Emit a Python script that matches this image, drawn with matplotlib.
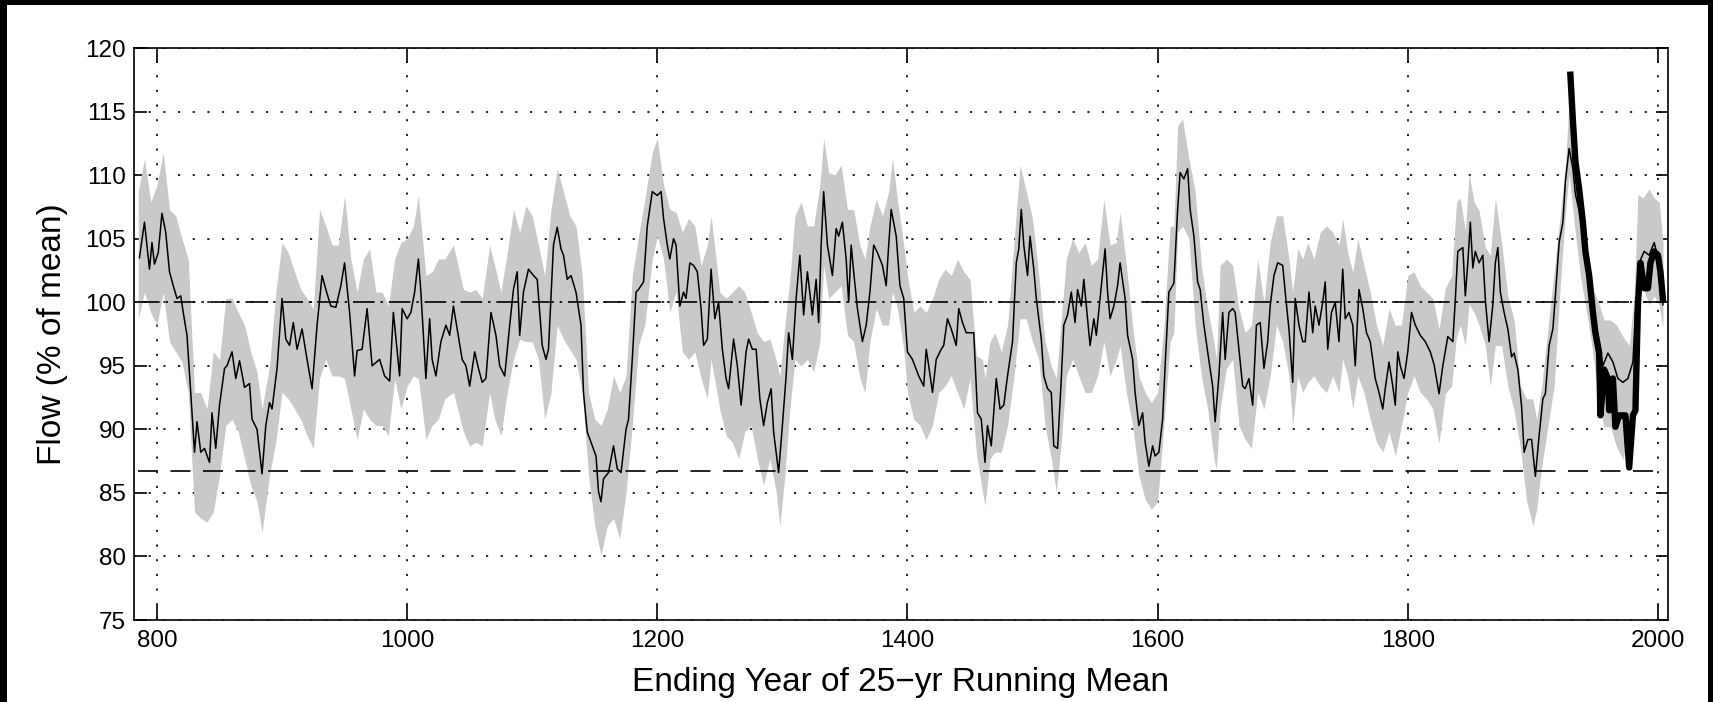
import matplotlib
matplotlib.use("Agg")
import matplotlib.pyplot as plt
from matplotlib.patches import Rectangle

plt.rcParams['font.family'] = ['Liberation Sans', 'DejaVu Sans']

# reconstructed flow, 25-yr running mean (thin line)
line_years = [786, 790, 794, 796, 798, 801, 804, 807, 810, 813, 816, 819, 821, 824, 827, 830,
              832, 835, 838, 842, 844, 847, 850, 854, 856, 860, 863, 866, 870, 874, 876, 880,
              884, 887, 890, 892, 896, 900, 903, 906, 909, 912, 916, 920, 924, 928, 932, 935,
              939, 943, 947, 950, 954, 958, 960, 964, 968, 972, 978, 982, 986, 989,
              994, 996, 1000, 1003, 1006, 1009, 1011, 1015, 1018, 1020, 1023, 1027, 1031, 1034,
              1037, 1040, 1044, 1047, 1050, 1054, 1057, 1060, 1063, 1067, 1071, 1074, 1078, 1082,
              1085, 1088, 1090, 1093, 1097, 1101, 1104, 1108, 1111, 1113, 1117, 1120, 1123, 1125,
              1128, 1131, 1135, 1139, 1141, 1144, 1148, 1151, 1153, 1155, 1157, 1161, 1165, 1168,
              1171, 1175, 1177, 1180, 1183, 1185, 1189, 1192, 1196,
              1200, 1203, 1205, 1208, 1210, 1213, 1215, 1218, 1221, 1223, 1226, 1229, 1232, 1235,
              1237, 1240, 1243, 1246, 1249, 1252, 1255, 1257, 1261, 1264, 1267, 1271, 1273, 1276,
              1279, 1282, 1285, 1288, 1291, 1293, 1297, 1300, 1303, 1305, 1308, 1311, 1314, 1317,
              1320, 1324, 1327, 1329, 1331, 1333, 1336, 1340, 1343, 1345, 1348, 1351, 1353, 1355,
              1357, 1360, 1364, 1367, 1370, 1373, 1376, 1380, 1383, 1385, 1387, 1391, 1394, 1397,
              1400, 1404,
              1409, 1413, 1415, 1417, 1420, 1423, 1427, 1429, 1432, 1435, 1439, 1441, 1444, 1447,
              1451, 1453, 1456, 1459, 1462, 1464, 1467, 1471, 1474, 1477, 1480, 1484, 1487, 1489,
              1491, 1493, 1496, 1498, 1501, 1503, 1507, 1509, 1512, 1515, 1517, 1520, 1523, 1525,
              1528, 1531, 1534, 1536, 1539, 1541, 1544, 1546, 1549, 1551, 1554, 1558, 1560, 1562,
              1565, 1568, 1570, 1574, 1576, 1580, 1582, 1585, 1588, 1590, 1593, 1596, 1598, 1601,
              1604, 1606, 1609, 1613,
              1616, 1618, 1621, 1624, 1626, 1629, 1632, 1634, 1637, 1640, 1644, 1646, 1649, 1652,
              1654, 1657, 1660, 1662, 1665, 1668, 1670, 1673, 1676, 1679, 1682, 1685, 1688, 1690,
              1693, 1696, 1700, 1702, 1705, 1708, 1710, 1713, 1716, 1718, 1721, 1724, 1726, 1729,
              1732, 1734, 1736, 1739, 1742, 1745, 1748, 1750, 1753, 1756, 1758, 1761, 1764, 1767,
              1770, 1774, 1777, 1780, 1782, 1785, 1788, 1790, 1792, 1794, 1797, 1800, 1803, 1806,
              1810, 1814, 1818, 1821,
              1825, 1828, 1832, 1836, 1838, 1840, 1844, 1846, 1848, 1850, 1852, 1854, 1857, 1860,
              1862, 1865, 1868, 1870, 1872, 1874, 1877, 1880, 1883, 1885, 1888, 1891, 1893, 1896,
              1899, 1902, 1905, 1908, 1910, 1913, 1916, 1918, 1921, 1924, 1926, 1929, 1932, 1934,
              1937, 1940, 1942, 1945, 1948, 1950, 1953, 1956, 1960, 1964, 1968, 1972, 1976, 1980,
              1982, 1985, 1989, 1993, 1997, 2001, 2004]
line_vals = [103.5, 106.3, 102.6, 104.7, 103.0, 103.9, 107.0, 105.5, 102.4, 101.3, 100.3, 100.5, 99.2, 97.4, 92.9, 88.2,
             90.6, 88.2, 88.5, 87.4, 91.3, 88.5, 91.9, 94.8, 95.0, 96.1, 94.0, 95.4, 93.3, 93.6, 90.8, 90.0,
             86.5, 90.3, 92.1, 91.6, 94.8, 100.3, 97.1, 96.6, 98.4, 96.3, 97.9, 95.5, 93.2, 98.2, 102.1, 101.0,
             99.7, 99.6, 101.3, 103.1, 99.2, 94.2, 96.2, 96.3, 99.5, 95.0, 95.5, 94.2, 93.8, 99.2,
             94.2, 99.5, 98.7, 99.2, 100.8, 103.4, 100.8, 94.0, 98.7, 95.5, 94.2, 96.9, 98.2, 97.4,
             99.7, 97.9, 95.5, 95.0, 93.4, 96.1, 94.8, 93.7, 94.0, 99.2, 97.4, 95.0, 94.2, 98.2,
             101.0, 102.4, 97.4, 100.8, 102.6, 102.1, 101.8, 96.6, 95.5, 96.3, 104.5, 105.9, 104.2, 103.7,
             101.8, 102.1, 100.8, 98.2, 92.9, 89.8, 88.7, 87.9, 85.1, 84.3, 86.1, 86.6, 88.7, 86.9,
             86.6, 90.0, 90.8, 95.5, 100.8, 101.0, 101.6, 106.0, 108.7,
             108.4, 108.7, 106.6, 104.5, 103.4, 105.0, 104.5, 99.7, 100.8, 100.3, 103.1, 102.9, 102.4, 99.5,
             96.6, 97.1, 102.6, 98.7, 100.0, 96.3, 94.0, 93.2, 97.1, 95.0, 91.9, 96.1, 97.1, 96.3,
             96.3, 92.4, 90.3, 92.1, 93.2, 89.8, 86.6, 90.3, 94.2, 97.6, 95.5, 100.3, 103.7, 99.0,
             102.4, 99.0, 101.8, 98.4, 104.5, 108.7, 104.5, 102.1, 105.8, 105.2, 106.3, 103.4, 100.0, 104.5,
             102.4, 99.5, 96.9, 98.2, 100.8, 104.5, 103.9, 102.9, 101.3, 104.5, 107.3, 105.2, 101.3, 100.3,
             96.1, 95.5,
             94.2, 93.4, 96.3, 95.0, 92.9, 95.5, 96.3, 96.6, 98.7, 97.9, 96.6, 99.5, 98.4, 97.6,
             97.6, 97.6, 91.3, 90.8, 87.4, 90.3, 88.7, 94.0, 91.6, 91.9, 94.2, 96.9, 103.1, 104.2,
             107.3, 104.5, 102.1, 105.2, 102.6, 100.3, 97.1, 94.2, 93.2, 92.9, 88.7, 88.5, 94.0, 98.2,
             99.0, 100.8, 98.4, 101.0, 99.7, 101.8, 98.7, 96.6, 98.7, 97.4, 100.3, 104.2, 100.8, 98.7,
             99.7, 101.3, 103.1, 100.3, 97.4, 95.5, 92.9, 90.3, 91.3, 89.0, 87.1, 88.7, 87.9, 88.2,
             90.8, 95.0, 100.8, 101.5,
             107.3, 110.2, 109.7, 110.5, 107.3, 105.2, 101.6, 101.0, 98.2, 96.1, 93.4, 90.6, 94.2, 99.2,
             95.5, 99.2, 99.5, 99.2, 96.3, 93.4, 93.2, 94.0, 91.9, 98.2, 98.4, 94.8, 96.9, 99.7,
             102.1, 103.1, 102.9, 100.8, 97.9, 93.7, 100.3, 98.2, 96.9, 96.9, 100.8, 97.6, 99.7, 98.2,
             100.0, 101.6, 96.3, 99.2, 100.0, 96.9, 102.6, 98.7, 99.2, 98.2, 95.0, 101.0, 99.5, 97.6,
             96.9, 94.0, 92.9, 91.6, 93.2, 95.3, 93.4, 91.9, 96.1, 95.0, 94.0, 96.1, 99.2, 98.2,
             97.4, 96.9, 96.1, 95.1,
             92.8, 95.0, 97.3, 96.9, 100.2, 104.0, 104.3, 100.5, 103.1, 106.3, 102.7, 104.0, 103.1, 103.7,
             100.2, 96.9, 99.8, 103.1, 104.3, 100.8, 99.2, 97.9, 95.7, 96.0, 94.7, 91.8, 88.2, 89.2,
             89.2, 86.3, 89.5, 92.4, 92.8, 96.6, 97.9, 100.5, 104.7, 106.3, 109.5, 112.1, 110.5, 108.5,
             107.2, 105.3, 103.7, 102.1, 99.8, 98.2, 96.9, 95.0, 96.0, 95.3, 94.0, 93.7, 94.0, 95.3,
             99.2, 103.1, 104.0, 103.7, 104.7, 103.1, 99.8]

# observed flow, 25-yr running mean (thick line)
obs_years = [1930, 1932, 1934, 1937, 1940, 1942, 1945, 1948, 1950, 1953, 1954, 1957, 1960, 1961, 1964, 1966,
             1969, 1972, 1974, 1977, 1980, 1982, 1984, 1986, 1989, 1992, 1994, 1997, 2000, 2002, 2004]
obs_vals = [117.9, 114.3, 111.1, 108.9, 106.3, 104.0, 102.1, 99.2, 97.6, 96.0, 91.1, 94.7, 94.0, 91.5, 94.0, 90.2,
            91.1, 91.1, 91.1, 87.0, 91.1, 91.5, 99.8, 103.1, 101.1, 101.1, 103.1, 104.0, 103.7, 102.4, 100.2]

# grey confidence band
band_years = [785, 790, 795, 800, 805, 810, 815, 820, 825, 830, 835, 840, 845, 850, 855, 860, 865, 870, 875, 880,
              884, 890, 895, 900, 905, 910, 915, 920, 925, 930, 935, 940, 945, 950, 955, 960, 965, 970, 975, 980,
              985, 990, 995, 1000, 1005, 1009, 1015, 1020, 1025, 1030, 1037, 1045, 1050, 1055, 1060, 1066, 1070,
              1075, 1080, 1085, 1090, 1095, 1100, 1105, 1110, 1115, 1120, 1125, 1130, 1135, 1140, 1145, 1150,
              1155, 1160, 1165, 1170, 1175, 1180, 1185, 1190, 1196, 1200, 1205, 1210, 1215, 1220, 1225, 1230,
              1235, 1240, 1243, 1250, 1255, 1260, 1265, 1270, 1275, 1280, 1285, 1290, 1295, 1298, 1302, 1306,
              1310, 1315, 1320, 1325, 1330, 1333, 1337, 1342, 1347, 1352, 1357, 1362, 1366, 1370, 1375, 1380,
              1385, 1388, 1392, 1397, 1400, 1405, 1410, 1415, 1420, 1425, 1430, 1435, 1440, 1445, 1450, 1455,
              1460, 1462, 1466, 1470, 1475, 1480, 1485, 1490, 1495, 1500, 1505, 1510, 1515, 1519, 1523, 1527,
              1532, 1537, 1542, 1547, 1552, 1557, 1562, 1567, 1570, 1575, 1580, 1585, 1590, 1595, 1600, 1605,
              1610, 1613, 1616, 1620, 1625, 1630, 1635, 1640, 1645, 1647, 1650, 1655, 1660, 1665, 1670, 1675,
              1680, 1685, 1690, 1695, 1700, 1705, 1708, 1712, 1716, 1720, 1725, 1730, 1735, 1740, 1745, 1748,
              1752, 1756, 1760, 1765, 1770, 1775, 1780, 1785, 1790, 1795, 1800, 1805, 1810, 1815, 1820, 1825,
              1830, 1835, 1839, 1842, 1846, 1849, 1853, 1857, 1862, 1866, 1870, 1875, 1880, 1885, 1890, 1895,
              1900, 1903, 1907, 1912, 1917, 1922, 1926, 1929, 1933, 1938, 1943, 1948, 1953, 1957, 1962, 1967,
              1972, 1977, 1981, 1984, 1988, 1993, 1997, 2001, 2004]
band_upper = [108.7, 111.3, 107.9, 109.2, 111.8, 107.3, 106.8, 105.0, 103.4, 92.9, 92.9, 91.6, 96.1, 95.5, 100.3, 100.3, 99.2, 98.2, 96.1, 94.5,
              91.6, 95.0, 100.8, 104.7, 103.9, 102.4, 101.0, 100.3, 99.5, 107.3, 106.0, 104.5, 104.5, 108.4, 103.4, 100.8, 103.4, 104.2, 100.8, 100.8,
              99.7, 103.4, 104.7, 105.0, 106.0, 108.4, 102.1, 102.4, 103.4, 103.4, 104.5, 101.0, 100.8, 101.0, 100.3, 104.5, 102.9,
              100.8, 103.9, 107.3, 105.5, 107.6, 106.8, 104.5, 102.1, 107.3, 110.5, 108.7, 106.8, 106.0, 102.1, 92.9, 90.8,
              90.3, 91.6, 94.2, 92.9, 94.2, 102.1, 105.2, 108.1, 111.8, 112.9, 109.2, 107.3, 107.1, 105.5, 106.6, 106.0,
              102.9, 104.5, 106.8, 100.8, 100.3, 100.8, 101.3, 100.8, 99.2, 97.6, 96.9, 97.1, 95.5, 94.2, 98.2, 101.8,
              106.8, 107.9, 106.0, 106.0, 109.2, 112.9, 110.2, 110.0, 110.8, 107.3, 107.3, 104.5, 103.4, 106.0, 108.1, 106.8,
              108.7, 111.3, 108.1, 104.5, 102.1, 99.2, 99.7, 99.2, 100.3, 101.8, 102.6, 102.1, 103.4, 102.4, 101.8, 95.8,
              95.5, 94.0, 96.9, 97.6, 96.1, 98.2, 104.5, 110.8, 108.7, 106.6, 102.1, 96.9, 95.0, 94.0, 98.7, 103.4,
              105.0, 103.9, 104.7, 102.9, 103.4, 108.1, 104.5, 104.7, 107.1, 102.9, 98.2, 94.2, 92.9, 92.1, 92.9, 98.2,
              106.0, 106.0, 113.9, 114.4, 111.3, 108.7, 102.9, 99.5, 96.9, 95.5, 102.9, 103.4, 102.9, 99.5, 97.6, 98.2,
              103.4, 100.0, 104.7, 106.8, 106.8, 103.4, 100.8, 104.2, 103.4, 104.7, 103.4, 105.5, 106.0, 105.5, 104.5, 106.6,
              103.9, 102.4, 105.0, 102.9, 100.8, 98.2, 96.6, 99.5, 98.2, 98.2, 102.1, 102.4, 101.3, 100.8, 100.3, 97.9,
              101.1, 102.1, 107.9, 108.2, 105.6, 110.1, 107.9, 107.2, 104.3, 103.7, 108.2, 104.7, 100.5, 98.6, 93.4, 92.4,
              92.4, 90.8, 93.4, 97.9, 102.4, 106.9, 110.8, 115.9, 111.1, 106.9, 104.7, 101.1, 99.8, 98.6, 98.6, 98.2,
              97.3, 96.6, 100.5, 108.5, 108.2, 108.9, 108.2, 107.9, 104.7]
band_lower = [98.7, 100.8, 99.2, 98.2, 100.8, 96.9, 96.1, 95.3, 92.9, 83.5, 83.0, 82.7, 83.5, 86.4, 90.3, 90.8, 89.8, 87.7, 85.6, 84.3,
              81.9, 86.4, 89.0, 92.9, 92.4, 91.6, 90.8, 89.5, 88.5, 94.0, 95.5, 94.2, 94.2, 94.0, 91.6, 89.2, 91.6, 90.8, 90.3, 90.3,
              89.5, 94.0, 91.6, 93.4, 94.2, 94.0, 89.2, 90.3, 90.8, 92.4, 92.9, 89.8, 88.7, 89.0, 88.7, 92.9, 90.8,
              89.5, 92.9, 95.5, 97.1, 96.9, 96.9, 95.5, 90.8, 92.9, 98.2, 97.1, 96.3, 95.5, 92.9, 86.4, 82.4,
              80.1, 82.4, 83.0, 81.4, 85.0, 90.3, 96.6, 98.2, 103.4, 105.2, 103.4, 99.2, 100.8, 96.1, 95.5, 96.1,
              94.0, 92.4, 95.5, 91.6, 89.5, 89.0, 87.7, 89.8, 90.3, 87.7, 85.6, 87.7, 85.1, 82.4, 86.4, 91.6,
              95.5, 95.0, 95.5, 94.5, 96.9, 102.9, 100.3, 100.8, 101.3, 97.4, 96.9, 94.0, 92.9, 96.9, 99.5, 98.2,
              98.2, 100.8, 99.5, 96.3, 92.9, 90.8, 90.3, 89.2, 90.3, 92.9, 93.4, 94.2, 92.9, 91.6, 94.0, 88.2,
              85.1, 84.0, 87.7, 88.2, 88.2, 90.3, 94.0, 98.7, 98.7, 96.9, 95.5, 90.3, 87.7, 85.1, 89.0, 94.2,
              95.5, 94.2, 92.9, 92.9, 94.2, 96.9, 94.2, 95.5, 96.6, 92.9, 90.3, 86.4, 84.5, 83.7, 84.3, 90.3,
              96.9, 97.6, 105.5, 106.0, 105.0, 98.2, 94.2, 91.6, 87.7, 86.9, 91.6, 94.8, 95.5, 90.3, 89.2, 88.5,
              92.9, 91.6, 94.2, 98.2, 96.9, 94.2, 90.3, 94.2, 92.9, 93.7, 94.2, 93.4, 92.9, 94.2, 92.9, 95.5,
              94.2, 91.6, 94.2, 92.9, 90.8, 89.0, 88.2, 89.8, 87.9, 90.3, 92.9, 94.2, 92.9, 92.4, 91.6, 88.9,
              92.8, 93.4, 97.3, 98.2, 96.6, 99.8, 99.2, 98.2, 96.6, 93.4, 96.6, 96.6, 93.4, 91.5, 88.6, 84.4,
              82.4, 83.7, 87.0, 90.2, 93.4, 101.4, 106.9, 110.1, 106.3, 102.1, 99.2, 96.0, 91.8, 90.2, 90.2, 88.6,
              87.6, 90.2, 93.4, 101.1, 101.1, 99.8, 100.5, 99.8, 97.9]

mean_level = 100
low_level = 86.7

fig = plt.figure(figsize=(17.13, 7.02), dpi=100, facecolor='black')
fig.patches.append(Rectangle((7 / 1713, 0), 1701 / 1713, 697 / 702, transform=fig.transFigure,
                             facecolor='white', edgecolor='none', zorder=-1))
ax = fig.add_axes([0.0782, 0.1168, 0.8955, 0.8148])
ax.set_zorder(1)

ax.fill_between(band_years, band_lower, band_upper, color='#c9c9c9', linewidth=0, zorder=2)
ax.plot([785, 2005], [mean_level, mean_level], color='black', lw=1.2,
        dashes=(13, 3.5, 1.5, 3.5), zorder=3)
ax.plot([785, 2005], [low_level, low_level], color='black', lw=1.2, dashes=(12, 7.5), zorder=3)
ax.plot(line_years, line_vals, color='black', lw=1.1, zorder=4)
ax.plot(obs_years, obs_vals, color='black', lw=4.6, solid_joinstyle='round', zorder=5)

ax.set_xlim(781.6, 2008)
ax.set_ylim(75, 120)
ax.set_xticks(range(800, 2001, 200))
ax.set_yticks(range(75, 121, 5))
ax.grid(True, color='black', linestyle=(0, (1.3, 7.5)), linewidth=1.2, zorder=1)
ax.set_axisbelow(True)
ax.tick_params(direction='in', top=True, right=True, labelsize=17.5, width=1.2, colors='black')
ax.tick_params(axis='y', length=9, pad=6)
ax.tick_params(axis='x', length=11, pad=7)
for s in ax.spines.values():
    s.set_linewidth(1.2)
    s.set_zorder(6)

ax.set_xlabel('Ending Year of 25\u2212yr Running Mean', fontsize=24, labelpad=11)
ax.set_ylabel('Flow (% of mean)', fontsize=24, labelpad=12)

fig.savefig('out.png', dpi=100, facecolor=fig.get_facecolor())
